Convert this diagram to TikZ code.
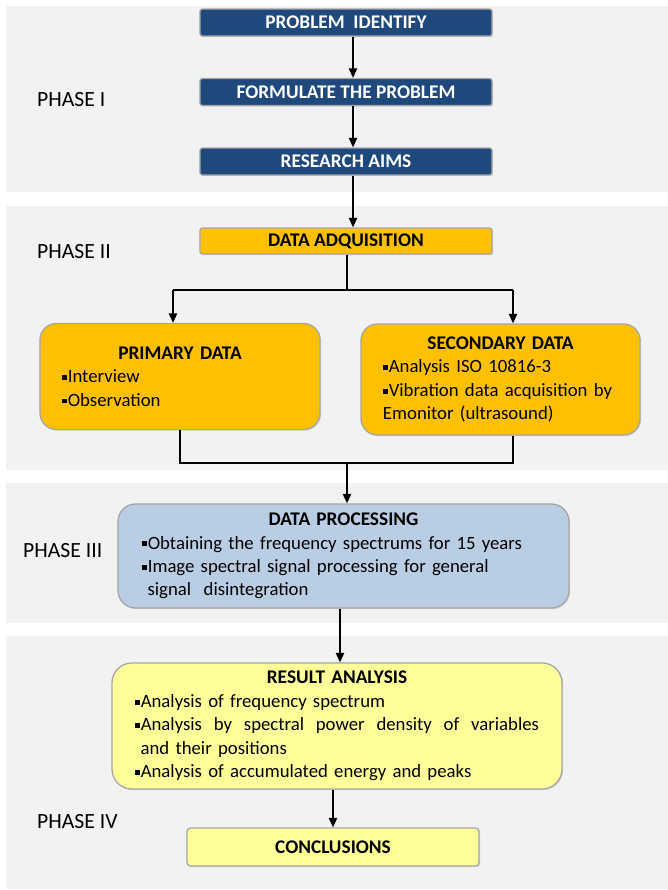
\documentclass[tikz,border=0pt]{standalone}
\usepackage{fontspec}
\setmainfont{Carlito}
\usetikzlibrary{arrows.meta, shadows}

\definecolor{bandgray}{HTML}{F2F2F2}
\definecolor{darkblue}{HTML}{1F497D}
\definecolor{amber}{HTML}{FFC000}
\definecolor{paleblue}{HTML}{B9CDE5}
\definecolor{paleyellow}{HTML}{FFFF99}
\definecolor{rimgray}{HTML}{A6A6A6}

\newcommand{\sqb}{\raisebox{0.3ex}{\rule{0.26em}{0.26em}}\kern0.05em}
\newcommand{\boxtitle}[1]{{\centering\fontsize{16.5}{20}\selectfont\bfseries #1\par}}

\begin{document}
\begin{tikzpicture}[x=0.03cm, y=-0.03cm]
\useasboundingbox (0,0) rectangle (668,890);

% phase bands
\fill[bandgray] (6,6) rectangle (668,192);
\fill[bandgray] (6,206) rectangle (668,470);
\fill[bandgray] (6,483) rectangle (668,623);
\fill[bandgray] (6,636) rectangle (668,889);

\begin{scope}[every node/.style={anchor=west, inner sep=0pt, font=\fontsize{18.5}{22}\selectfont}]
    \node (phase1) at (37,100) {PHASE I};
    \node (phase2) at (37,252) {PHASE II};
    \node (phase3) at (23,551) {PHASE III};
    \node (phase4) at (37,822) {PHASE IV};
\end{scope}

\begin{scope}[every node/.style={draw=rimgray, line width=1.1pt, inner ysep=0pt,
                  drop shadow={shadow xshift=1pt, shadow yshift=-1pt, opacity=0.25},
                  font=\fontsize{16}{20}\selectfont},
              head/.style={fill=darkblue, text=white, rounded corners=2pt,
                  font=\fontsize{16.5}{20}\selectfont\bfseries,
                  minimum width=8.76cm, minimum height=0.81cm}]
    \node (identify) at (346,22.5) [head] {PROBLEM\ \ IDENTIFY};
    \node (formulate) at (346,92) [head] {FORMULATE THE PROBLEM};
    \node (aims) at (346,161.5) [head] {RESEARCH AIMS};

    \node (acquisition) at (346,241) [head, fill=amber, text=black, minimum height=0.78cm] {DATA ADQUISITION};

    \node (primary) at (180,376.5) [fill=amber, rounded corners=14pt, minimum height=3.18cm,
        inner xsep=0.66cm, text width=7.08cm]
        {\boxtitle{PRIMARY DATA}\sqb Interview\\\sqb Observation\par\vspace*{0.5cm}};
    \node (secondary) at (500.5,379.5) [fill=amber, rounded corners=14pt, minimum height=3.33cm,
        inner xsep=0.66cm, text width=7.05cm]
        {\boxtitle{SECONDARY DATA}\sqb Analysis ISO 10816-3\\\sqb Vibration data acquisition by\\Emonitor (ultrasound)\par\vspace*{0.36cm}};

    \node (processing) at (343.5,556) [fill=paleblue, rounded corners=15pt, minimum height=3.12cm,
        inner xsep=0.72cm, text width=12.09cm]
        {\boxtitle{DATA PROCESSING}\sqb Obtaining the frequency spectrums for 15 years\\
         \sqb Image spectral signal processing for general\\\hspace*{0.3em}signal\ \ disintegration};

    \node (results) at (337,726) [fill=paleyellow, rounded corners=17pt, minimum height=3.78cm,
        inner xsep=0.69cm, text width=12.12cm]
        {\boxtitle{RESULT ANALYSIS}\sqb Analysis of frequency spectrum\\
         \sqb Analysis\hfill by\hfill spectral\hfill power\hfill density\hfill of\hfill variables\\
         \hspace*{0.3em}and their positions\\
         \sqb Analysis of accumulated energy and peaks};

    \node (conclusions) at (333,847) [fill=paleyellow, rounded corners=3pt,
        minimum width=8.76cm, minimum height=1.14cm, font=\fontsize{16.5}{20}\selectfont\bfseries]
        {CONCLUSIONS};
\end{scope}

\begin{scope}[>={Triangle[length=8pt, width=7pt]}, line width=1.2pt]
    \coordinate (spine) at (353,0);
    \coordinate (split) at (347,290);
    \coordinate (splitL) at (173,290);
    \coordinate (splitR) at (513,290);
    \coordinate (merge) at (347,463);
    \coordinate (lower) at (340,0);

    \draw [->] (identify.south -| spine) -- (formulate.north -| spine);
    \draw [->] (formulate.south -| spine) -- (aims.north -| spine);
    \draw [->] (aims.south -| spine) -- (acquisition.north -| spine);

    \draw (acquisition.south -| split) -- (split);
    \draw (splitL) -- (splitR);
    \draw [->] (splitL) -- (splitL |- primary.north);
    \draw [->] (splitR) -- (splitR |- secondary.north);

    \draw (primary.south) |- (merge);
    \draw (secondary.south -| splitR) |- (merge);
    \draw [->] (merge) -- (merge |- processing.north);

    \draw [->] (processing.south -| lower) -- (results.north -| lower);
    \draw [->] (results.south -| conclusions.north) -- (conclusions.north);
\end{scope}
\end{tikzpicture}
\end{document}
